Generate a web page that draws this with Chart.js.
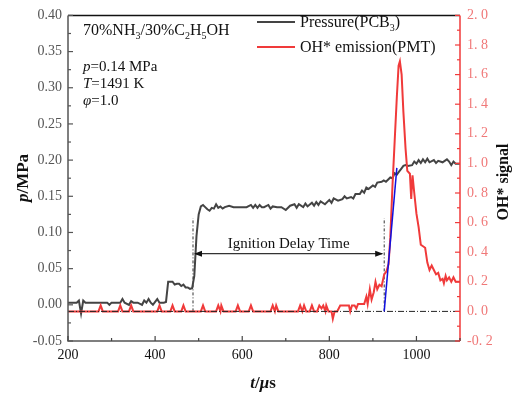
<!DOCTYPE html>
<html>
<head>
<meta charset="utf-8">
<script src="https://cdn.jsdelivr.net/npm/chart.js@4"></script>
<style>
  html, body { margin: 0; padding: 0; background: #fff; }
  #wrap { width: 515px; height: 394px; }
</style>
</head>
<body>
<div id="wrap"><canvas id="c" width="515" height="394"></canvas></div>
<script>
/* ---------- DATA ---------- */
const pressureTime = [200,210,220,225,230,235,240,250,260,270,280,290,295,300,310,320,325,330,340,345,350,360,370,375,380,385,390,395,400,405,410,420,425,430,440,445,450,455,460,465,470,475,480,485,490,495,500,505,510,515,520,525,530,535,540,545,550,555,560,570,580,590,600,610,620,625,630,635,640,645,650,660,665,670,680,690,700,710,720,725,730,740,745,750,760,765,770,775,780,790,800,805,810,820,830,835,840,850,855,860,870,875,880,885,890,900,905,910,920,925,930,940,945,950,955,960,965,970,975,980,990,995,1000,1005,1010,1015,1020,1025,1030,1040,1045,1050,1060,1070,1075,1080,1085,1090,1100];
const pressureValue = [0.003,0.003,0.003,0.006,-0.012,0.006,0.003,0.003,0.003,0.003,0.003,0.003,0.0,0.003,0.003,0.003,0.008,0.003,0.0,0.005,0.003,0.003,0.0,0.006,0.003,0.008,0.003,0.0,0.004,0.008,0.003,0.003,0.004,0.032,0.032,0.028,0.029,0.029,0.026,0.028,0.024,0.024,0.022,0.023,0.04,0.095,0.125,0.136,0.138,0.135,0.132,0.130,0.134,0.133,0.139,0.134,0.136,0.133,0.135,0.137,0.135,0.135,0.135,0.135,0.138,0.134,0.138,0.134,0.138,0.135,0.135,0.138,0.133,0.136,0.135,0.135,0.131,0.137,0.139,0.134,0.139,0.135,0.140,0.136,0.141,0.137,0.142,0.138,0.143,0.139,0.145,0.141,0.147,0.144,0.146,0.150,0.147,0.149,0.147,0.153,0.153,0.158,0.155,0.162,0.160,0.165,0.163,0.169,0.170,0.172,0.170,0.176,0.175,0.182,0.180,0.184,0.188,0.192,0.193,0.192,0.193,0.198,0.195,0.200,0.196,0.201,0.197,0.202,0.197,0.200,0.196,0.199,0.197,0.201,0.198,0.193,0.198,0.195,0.195];

const ohTime = [200,270,275,280,315,320,325,340,345,350,405,410,415,435,440,445,460,465,470,505,510,515,540,545,550,552,557,585,590,595,615,620,625,665,670,675,678,683,728,733,738,742,747,755,760,765,772,777,782,786,791,793,798,805,808,812,818,825,845,848,852,858,862,866,880,885,888,893,897,902,906,910,915,920,926,931,936,940,945,950,955,959,962,966,970,975,979,985,988,991,995,1000,1005,1010,1015,1020,1025,1030,1035,1040,1045,1050,1055,1060,1063,1067,1070,1075,1080,1085,1090,1100];
const ohValue = [0,0,0.04,0,0,0.04,0,0,0.04,0,0,0.04,0,0,0.04,0,0,0.04,0,0,0.04,0,0,0.04,0,0.04,0,0,0.04,0,0,0.04,0,0,0.04,0,0.04,0,0,0.04,0,0.04,0,0,0.04,0,0,0.04,0.02,0.04,0,0.04,0,0,-0.05,0,0,0.04,0.04,0.0,0.04,0.04,0.02,0.05,0.05,0.10,0.05,0.15,0.08,0.13,0.20,0.15,0.18,0.17,0.25,0.27,0.32,0.50,0.85,1.15,1.45,1.66,1.69,1.60,1.35,1.10,0.95,0.93,0.76,0.92,0.80,0.66,0.57,0.45,0.44,0.43,0.33,0.28,0.31,0.28,0.25,0.26,0.21,0.22,0.19,0.24,0.21,0.23,0.20,0.23,0.20,0.20];

// ignition delay markers (μs) and tangent line (t, OH*)
const ignitionStart = 487;
const ignitionEnd = 926;
const markerTop = 0.63;     // OH* axis units
const arrowLevel = 0.39;    // OH* axis units
const tangentTime = [926, 955];
const tangentValue = [0, 0.97];

const xTicks = { min: 200, max: 1100, step: 100 };
const pTicks = { min: -0.05, max: 0.40, step: 0.025 };
const ohTicks = { min: -0.2, max: 2.0, step: 0.1 };

const SERIF = "'Liberation Serif', 'DejaVu Serif', serif";

function pts(xs, ys) { return xs.map((x, i) => ({ x, y: ys[i] })); }

/* ---------- RICH TEXT HELPER ---------- */
// parts: [text, kind]  kind: n | i | sub | b | bi
function fontFor(k, size) {
  let st = "";
  if (k === "i") st = "italic ";
  if (k === "b") st = "bold ";
  if (k === "bi") st = "italic bold ";
  const fs = k === "sub" ? Math.round(size * 0.62) : size;
  return st + fs + "px " + SERIF;
}
function drawRich(ctx, parts, x, y, size, color) {
  ctx.fillStyle = color;
  ctx.textBaseline = "alphabetic";
  ctx.textAlign = "left";
  let cx = x;
  parts.forEach(([t, k]) => {
    ctx.font = fontFor(k, size);
    ctx.fillText(t, cx, y + (k === "sub" ? size * 0.22 : 0));
    cx += ctx.measureText(t).width;
  });
  return cx - x;
}
function richWidth(ctx, parts, size) {
  let w = 0;
  parts.forEach(([t, k]) => {
    ctx.font = fontFor(k, size);
    w += ctx.measureText(t).width;
  });
  return w;
}

/* ---------- FRAME, INWARD TICKS, LABELS ---------- */
const decorPlugin = {
  id: "decor",
  afterDraw(chart) {
    const ctx = chart.ctx;
    const a = chart.chartArea;
    const sx = chart.scales.x, sp = chart.scales.y, so = chart.scales.y1;
    ctx.save();

    // frame
    ctx.lineWidth = 1.5;
    ctx.strokeStyle = "#111";
    ctx.beginPath(); ctx.moveTo(a.left, a.top); ctx.lineTo(a.right, a.top); ctx.stroke();
    ctx.strokeStyle = "#555";
    ctx.beginPath(); ctx.moveTo(a.left, a.top); ctx.lineTo(a.left, a.bottom); ctx.lineTo(a.right, a.bottom); ctx.stroke();
    ctx.strokeStyle = "#f03a3a";
    ctx.beginPath(); ctx.moveTo(a.right, a.top); ctx.lineTo(a.right, a.bottom); ctx.stroke();

    // ticks pointing into the plot
    ctx.lineWidth = 1.2;
    ctx.strokeStyle = "#444";
    sx.ticks.forEach(t => {
      const px = sx.getPixelForValue(t.value);
      const len = Math.round(t.value) % 200 === 0 ? 5 : 3;
      ctx.beginPath(); ctx.moveTo(px, a.bottom); ctx.lineTo(px, a.bottom - len); ctx.stroke();
    });
    ctx.strokeStyle = "#555";
    sp.ticks.forEach(t => {
      const py = sp.getPixelForValue(t.value);
      const len = Math.abs(Math.round(t.value * 1000)) % 50 === 0 ? 5 : 3;
      ctx.beginPath(); ctx.moveTo(a.left, py); ctx.lineTo(a.left + len, py); ctx.stroke();
    });
    ctx.strokeStyle = "#f03a3a";
    so.ticks.forEach(t => {
      const py = so.getPixelForValue(t.value);
      const len = Math.abs(Math.round(t.value * 10)) % 2 === 0 ? 5 : 3;
      ctx.beginPath(); ctx.moveTo(a.right, py); ctx.lineTo(a.right - len, py); ctx.stroke();
    });

    // ignition delay arrow
    const x1 = sx.getPixelForValue(ignitionStart);
    const x2 = sx.getPixelForValue(ignitionEnd);
    const ya = so.getPixelForValue(arrowLevel);
    ctx.strokeStyle = "#333";
    ctx.fillStyle = "#111";
    ctx.lineWidth = 1.3;
    ctx.beginPath(); ctx.moveTo(x1 + 2, ya); ctx.lineTo(x2 - 2, ya); ctx.stroke();
    ctx.beginPath(); ctx.moveTo(x1 + 1, ya); ctx.lineTo(x1 + 9, ya - 3); ctx.lineTo(x1 + 9, ya + 3); ctx.closePath(); ctx.fill();
    ctx.beginPath(); ctx.moveTo(x2 - 1, ya); ctx.lineTo(x2 - 9, ya - 3); ctx.lineTo(x2 - 9, ya + 3); ctx.closePath(); ctx.fill();
    ctx.font = "15px " + SERIF;
    ctx.textAlign = "center";
    ctx.textBaseline = "alphabetic";
    ctx.fillStyle = "#111";
    ctx.fillText("Ignition Delay Time", (x1 + x2) / 2, ya - 6);

    // condition annotation
    drawRich(ctx, [["70%NH", "n"], ["3", "sub"], ["/30%C", "n"], ["2", "sub"], ["H", "n"], ["5", "sub"], ["OH", "n"]], 83, 35, 16, "#111");
    drawRich(ctx, [["p", "i"], ["=0.14 MPa", "n"]], 83, 71, 15, "#111");
    drawRich(ctx, [["T", "i"], ["=1491 K", "n"]], 83, 88, 15, "#111");
    drawRich(ctx, [["φ", "i"], ["=1.0", "n"]], 83, 105, 15, "#111");

    // legend
    ctx.lineWidth = 2;
    ctx.strokeStyle = "#444";
    ctx.beginPath(); ctx.moveTo(257, 22); ctx.lineTo(295, 22); ctx.stroke();
    ctx.strokeStyle = "#f03a3a";
    ctx.beginPath(); ctx.moveTo(257, 47); ctx.lineTo(295, 47); ctx.stroke();
    drawRich(ctx, [["Pressure(PCB", "n"], ["3", "sub"], [")", "n"]], 300, 27, 16, "#111");
    drawRich(ctx, [["OH* emission(PMT)", "n"]], 300, 52, 16, "#111");

    // axis titles
    const px = [["p", "bi"], ["/MPa", "b"]];
    ctx.save();
    ctx.translate(28, 178);
    ctx.rotate(-Math.PI / 2);
    drawRich(ctx, px, -richWidth(ctx, px, 17) / 2, 0, 17, "#111");
    ctx.restore();

    const po = [["OH* signal", "b"]];
    ctx.save();
    ctx.translate(508, 182);
    ctx.rotate(-Math.PI / 2);
    drawRich(ctx, po, -richWidth(ctx, po, 16) / 2, 0, 16, "#111");
    ctx.restore();

    const pt = [["t", "bi"], ["/", "b"], ["μ", "bi"], ["s", "b"]];
    drawRich(ctx, pt, 263 - richWidth(ctx, pt, 17) / 2, 388, 17, "#111");

    ctx.restore();
  }
};

/* ---------- CHART ---------- */
new Chart(document.getElementById("c"), {
  type: "line",
  data: {
    datasets: [
      { label: "tangent", data: pts(tangentTime, tangentValue), yAxisID: "y1",
        borderColor: "#1010e0", borderWidth: 1.5, pointRadius: 0 },
      { label: "zero", data: pts([xTicks.min, xTicks.max], [0, 0]), yAxisID: "y1",
        borderColor: "#222", borderWidth: 1, borderDash: [6, 2, 1, 2], pointRadius: 0 },
      { label: "OH* emission(PMT)", data: pts(ohTime, ohValue), yAxisID: "y1",
        borderColor: "#f03a3a", borderWidth: 2, pointRadius: 0, tension: 0 },
      { label: "Pressure(PCB3)", data: pts(pressureTime, pressureValue), yAxisID: "y",
        borderColor: "#444", borderWidth: 2, pointRadius: 0, tension: 0 },
      { label: "start", data: pts([ignitionStart, ignitionStart], [0, markerTop]), yAxisID: "y1",
        borderColor: "#333", borderWidth: 1, borderDash: [3, 2, 1, 2], pointRadius: 0 },
      { label: "end", data: pts([ignitionEnd, ignitionEnd], [0, markerTop]), yAxisID: "y1",
        borderColor: "#333", borderWidth: 1, borderDash: [3, 2, 1, 2], pointRadius: 0 }
    ]
  },
  options: {
    responsive: false,
    animation: false,
    devicePixelRatio: 1,
    layout: { padding: { top: 11, left: 0, right: 0, bottom: 0 } },
    plugins: { legend: { display: false }, tooltip: { enabled: false } },
    scales: {
      x: {
        type: "linear", min: xTicks.min, max: xTicks.max,
        grid: { display: false, drawTicks: false }, border: { display: false },
        ticks: {
          stepSize: xTicks.step, autoSkip: false, maxRotation: 0, padding: 6,
          color: "#111", font: { family: SERIF, size: 14 },
          callback: v => (Math.round(v) % 200 === 0 && v < 1100) ? String(v) : ""
        },
        afterFit: s => { s.height = 53; }
      },
      y: {
        position: "left", min: pTicks.min, max: pTicks.max,
        grid: { display: false, drawTicks: false }, border: { display: false },
        ticks: {
          stepSize: pTicks.step, autoSkip: false, padding: 6,
          color: "#555", font: { family: SERIF, size: 14 },
          callback: v => Math.abs(Math.round(v * 1000)) % 50 === 0 ? v.toFixed(2) : ""
        },
        afterFit: s => { s.width = 68; }
      },
      y1: {
        position: "right", min: ohTicks.min, max: ohTicks.max,
        grid: { display: false, drawTicks: false }, border: { display: false },
        ticks: {
          stepSize: ohTicks.step, autoSkip: false, padding: 7,
          color: "#f07878", font: { family: SERIF, size: 14 },
          callback: v => Math.abs(Math.round(v * 10)) % 2 === 0 ? v.toFixed(1).replace(".", ". ") : ""
        },
        afterFit: s => { s.width = 55; }
      }
    }
  },
  plugins: [decorPlugin]
});
</script>
</body>
</html>
